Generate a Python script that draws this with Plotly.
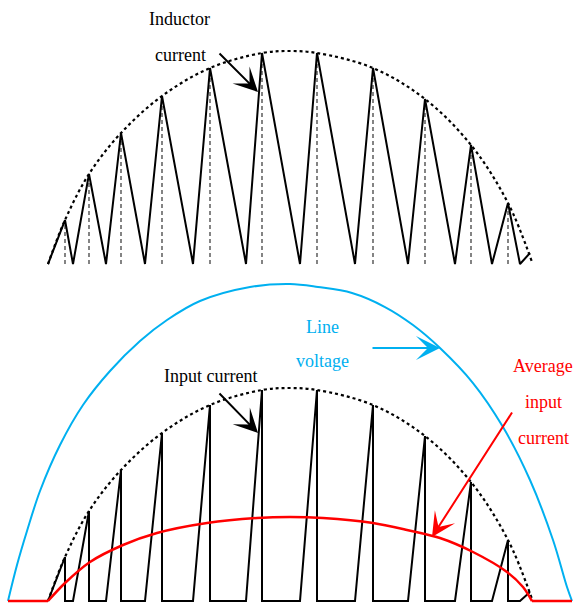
import plotly.graph_objects as go

# ---------------- data (x = time position, y = amplitude) ----------------
# switching-cycle sample instants and peak values
peak_t = [65, 89, 121, 162, 210, 262, 317, 373, 425, 471, 508]
peak_i = [44, 90, 131, 168, 196, 211, 211, 196, 165, 119, 61]

# inductor current (triangular)
il_t = [48, 65, 73, 89, 106, 121, 145, 162, 193, 210, 246, 262, 300, 317,
        355, 373, 408, 425, 455, 471, 492, 508, 520, 530]
il_i = [0, 44, 0, 90, 0, 131, 0, 168, 0, 196, 0, 211, 0, 211,
        0, 196, 0, 165, 0, 119, 0, 61, 0, 11]

# input current (sawtooth)
iin_t = [48, 65, 65, 73, 89, 89, 106, 121, 121, 145, 162, 162, 193, 210, 210,
         246, 262, 262, 300, 317, 317, 355, 373, 373, 408, 425, 425, 455,
         471, 471, 492, 508, 508, 520, 530]
iin_i = [0, 44, 0, 0, 90, 0, 0, 131, 0, 0, 168, 0, 0, 196, 0,
         0, 211, 0, 0, 211, 0, 0, 196, 0, 0, 165, 0, 0,
         119, 0, 0, 61, 0, 0, 9]

# peak envelope
env_t = [48, 65, 89, 121, 162, 210, 262, 290, 317, 373, 425, 471, 508, 532]
env_i = [0, 44, 90, 131, 168, 196, 211, 213, 211, 196, 165, 119, 61, 2]

# line voltage
vl_t = [8, 17, 27, 40, 60, 83, 110, 140, 167, 200, 250, 290, 318, 352, 385, 413,
        440, 473, 503, 530, 553, 567, 572]
vl_v = [0, 36, 70, 110, 156, 196, 230, 260, 281, 300, 314, 317, 314, 308, 294, 276,
        253, 218, 174, 121, 61, 14, 0]

# average input current
avg_t = [48, 65, 90, 123, 157, 207, 257, 290, 323, 373, 407, 440, 473, 507, 523, 532]
avg_i = [0, 18, 39, 56, 68, 78, 83, 84, 83, 78, 71, 63, 49, 29, 14, 0]
avg_off_left = [8, 48]
avg_off_right = [532, 572]

BLUE = "#00B0F0"
RED = "#FF0000"
FONT = "Liberation Serif"

fig = go.Figure()

# ---------------- top panel: inductor current ----------------
for t, i in zip(peak_t, peak_i):
    fig.add_trace(go.Scatter(x=[t, t], y=[0, i], mode="lines", yaxis="y2",
                             line=dict(color="#333333", width=1.2, dash="4px,3px"),
                             hoverinfo="skip", showlegend=False))
fig.add_trace(go.Scatter(x=env_t, y=env_i, mode="lines", yaxis="y2",
                         line=dict(color="black", width=2.2, dash="dot", shape="spline"),
                         showlegend=False))
fig.add_trace(go.Scatter(x=il_t, y=il_i, mode="lines", yaxis="y2",
                         line=dict(color="black", width=2), showlegend=False))

# ---------------- bottom panel ----------------
fig.add_trace(go.Scatter(x=vl_t, y=vl_v, mode="lines", yaxis="y",
                         line=dict(color=BLUE, width=2, shape="spline", smoothing=1.0),
                         showlegend=False))
fig.add_trace(go.Scatter(x=env_t, y=env_i, mode="lines", yaxis="y",
                         line=dict(color="black", width=2.2, dash="dot", shape="spline"),
                         showlegend=False))
fig.add_trace(go.Scatter(x=iin_t, y=iin_i, mode="lines", yaxis="y",
                         line=dict(color="black", width=2), showlegend=False))
fig.add_trace(go.Scatter(x=avg_t, y=avg_i, mode="lines", yaxis="y",
                         line=dict(color=RED, width=2.5, shape="spline", smoothing=0.8),
                         showlegend=False))
for seg in (avg_off_left, avg_off_right):
    fig.add_trace(go.Scatter(x=seg, y=[0, 0], mode="lines", yaxis="y",
                             line=dict(color=RED, width=2.5), showlegend=False))

# ---------------- annotations ----------------
def label(text, x, y, yref, color="black"):
    fig.add_annotation(x=x, y=y, xref="x", yref=yref, text=text, showarrow=False,
                       font=dict(family=FONT, size=18, color=color),
                       xanchor="center", yanchor="middle")

def arrow(x0, y0, x1, y1, yref, color="black"):
    fig.add_annotation(x=x1, y=y1, ax=x0, ay=y0, xref="x", yref=yref,
                       axref="x", ayref=yref, text="", showarrow=True,
                       arrowhead=3, arrowsize=2.0, arrowwidth=2,
                       arrowcolor=color, standoff=0)

label("Inductor", 179, 245, "y2")
label("current", 180, 209, "y2")
arrow(218, 212, 258, 172, "y2")

label("Input current", 210, 225, "y")
arrow(218, 209, 258, 168, "y")

label("Line", 322, 274, "y", BLUE)
label("voltage", 322, 240, "y", BLUE)
arrow(371, 253, 440, 253, "y", BLUE)

label("Average", 543, 235, "y", RED)
label("input", 543, 199, "y", RED)
label("current", 543, 163, "y", RED)
arrow(513, 190, 432, 64, "y", RED)

fig.update_layout(
    width=575, height=603,
    margin=dict(l=0, r=0, t=0, b=0),
    paper_bgcolor="white", plot_bgcolor="white",
    xaxis=dict(range=[0, 575], domain=[0, 1], visible=False, fixedrange=True),
    yaxis=dict(range=[-2, 331], domain=[0, 0.5522], visible=False, fixedrange=True),
    yaxis2=dict(range=[-6, 264], domain=[0.5522, 1], visible=False,
                anchor="x", fixedrange=True),
    showlegend=False,
)

fig.write_html(
    "out.html",
    config={"displayModeBar": False},
    post_script="document.body.style.margin='0';document.body.style.overflow='hidden';",
)
